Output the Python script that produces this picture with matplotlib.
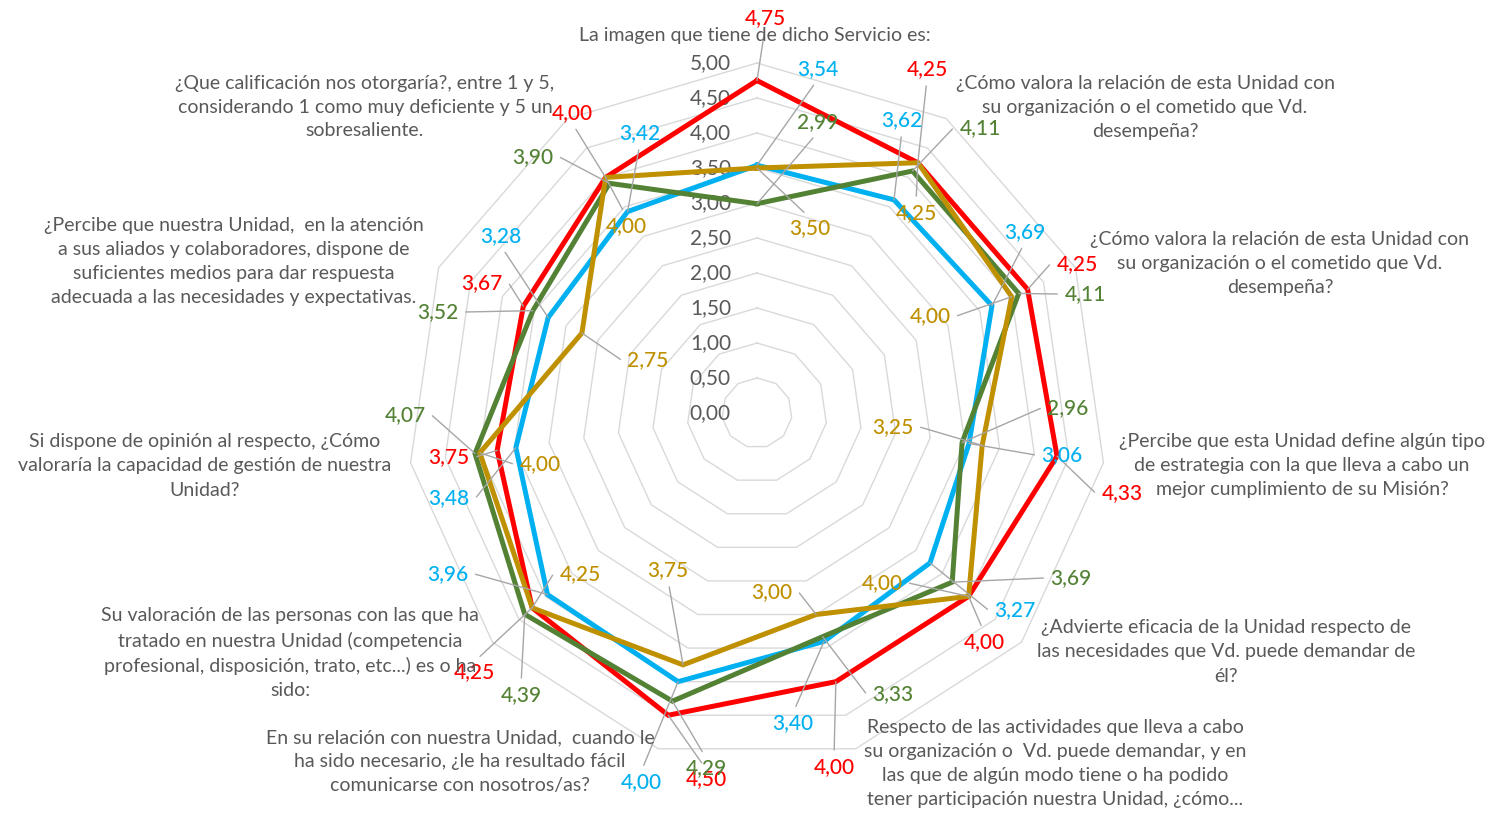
import matplotlib.pyplot as plt
import numpy as np

plt.rcParams['font.family'] = ['Lato', 'DejaVu Sans']

W, H = 1496, 814

preguntas = [
    "La imagen que tiene de dicho Servicio es:",
    "¿Cómo valora la relación de esta Unidad con\nsu organización o el cometido que Vd.\ndesempeña?",
    "¿Cómo valora la relación de esta Unidad con\nsu organización o el cometido que Vd.\ndesempeña?",
    "¿Percibe que esta Unidad define algún tipo\nde estrategia con la que lleva a cabo un\nmejor cumplimiento de su Misión?",
    "¿Advierte eficacia de la Unidad respecto de\nlas necesidades que Vd. puede demandar de\nél?",
    "Respecto de las actividades que lleva a cabo\nsu organización o  Vd. puede demandar, y en\nlas que de algún modo tiene o ha podido\ntener participación nuestra Unidad, ¿cómo...",
    "En su relación con nuestra Unidad,  cuando le\nha sido necesario, ¿le ha resultado fácil\ncomunicarse con nosotros/as?",
    "Su valoración de las personas con las que ha\ntratado en nuestra Unidad (competencia\nprofesional, disposición, trato, etc...) es o ha\nsido:",
    "Si dispone de opinión al respecto, ¿Cómo\nvaloraría la capacidad de gestión de nuestra\nUnidad?",
    "¿Percibe que nuestra Unidad,  en la atención\na sus aliados y colaboradores, dispone de\nsuficientes medios para dar respuesta\nadecuada a las necesidades y expectativas.",
    "¿Que calificación nos otorgaría?, entre 1 y 5,\nconsiderando 1 como muy deficiente y 5 un\nsobresaliente.",
]

rojo = [4.75, 4.25, 4.25, 4.33, 4.00, 4.00, 4.50, 4.25, 3.75, 3.67, 4.00]
azul = [3.54, 3.62, 3.69, 3.06, 3.27, 3.40, 4.00, 3.96, 3.48, 3.28, 3.42]
verde = [2.99, 4.11, 4.11, 2.96, 3.69, 3.33, 4.29, 4.39, 4.07, 3.52, 3.90]
oro = [3.50, 4.25, 4.00, 3.25, 4.00, 3.00, 3.75, 4.25, 4.00, 2.75, 4.00]

niveles = np.arange(0.5, 5.01, 0.5)
ticks = np.arange(0, 5.01, 0.5)

# posicion de cada etiqueta de valor (px desde arriba a la izquierda)
pos_rojo = [(765, 18), (927, 69), (1077, 264), (1122, 493), (984, 642), (834, 767),
            (706, 779), (474, 672), (449, 457), (482, 283), (572, 113)]
pos_azul = [(818, 69), (902, 120), (1025, 232), (1062, 455), (1015, 610), (793, 723),
            (641, 782), (448, 574), (449, 498), (501, 236), (640, 133)]
pos_verde = [(818, 122), (980, 128), (1085, 294), (1068, 408), (1071, 578), (893, 694),
             (706, 768), (521, 695), (405, 415), (438, 312), (533, 157)]
pos_oro = [(810, 228), (916, 213), (930, 316), (893, 427), (882, 583), (772, 592),
           (668, 570), (580, 574), (540, 464), (648, 360), (626, 226)]

pos_preguntas = [(755, 35), (1145, 107), (1280, 263), (1302, 466), (1226, 652), (1055, 763),
                 (460, 762), (290, 653), (205, 466), (234, 261), (365, 107)]

series = [
    (rojo, '#FF0000', pos_rojo),
    (azul, '#00B0F0', pos_azul),
    (verde, '#548235', pos_verde),
    (oro, '#BF9000', pos_oro),
]

n = len(preguntas)
ang = np.linspace(0, 2 * np.pi, n, endpoint=False)
ang_c = np.append(ang, ang[0])

fig = plt.figure(figsize=(W / 100, H / 100), dpi=100)
ax = fig.add_axes([(757 - 350) / W, (H - 413 - 350) / H, 700 / W, 700 / H], projection='polar')
ax.set_theta_zero_location('N')
ax.set_theta_direction(-1)
ax.set_ylim(0, 5)
ax.axis('off')

# rejilla poligonal
for r in niveles:
    ax.plot(ang_c, [r] * (n + 1), color='#D9D9D9', lw=1, zorder=1, clip_on=False)

# etiquetas del eje radial
for t in ticks:
    ax.annotate(f"{t:.2f}".replace('.', ','), xy=(0, t), xytext=(-26, 0),
                textcoords='offset pixels', ha='right', va='center',
                fontsize=15, color='#595959', zorder=2)

for vals, col, _ in series:
    ax.plot(ang_c, vals + vals[:1], color=col, lw=3.6, zorder=3, clip_on=False,
            solid_joinstyle='miter')

fig.canvas.draw()

for vals, col, pos in series:
    for a, v, (lx, ly) in zip(ang, vals, pos):
        px, py = ax.transData.transform((a, v))
        fx, fy = lx, H - ly
        dx, dy = px - fx, py - fy
        props = None
        if np.hypot(dx, dy) > 30:
            if abs(dx) >= abs(dy):
                rel = (1, 0.5) if dx > 0 else (0, 0.5)
                cs = f"arc,angleA={0 if dx > 0 else 180},angleB=0,armA=6,armB=0,rad=0"
            else:
                rel = (0.5, 1) if dy > 0 else (0.5, 0)
                cs = "arc3,rad=0"
            props = dict(arrowstyle='-', color='#A6A6A6', lw=1, shrinkA=3, shrinkB=0,
                         relpos=rel, connectionstyle=cs)
        ax.annotate(f"{v:.2f}".replace('.', ','), xy=(a, v), xytext=(fx / W, fy / H),
                    textcoords='figure fraction', ha='center', va='center',
                    fontsize=15, fontweight='medium', color=col, arrowprops=props,
                    zorder=5, annotation_clip=False)

for txt, (x, y) in zip(preguntas, pos_preguntas):
    fig.text(x / W, 1 - y / H, txt, ha='center', va='center', multialignment='center',
             fontsize=14, color='#595959', linespacing=1.5)

fig.savefig('out.png', dpi=100)
